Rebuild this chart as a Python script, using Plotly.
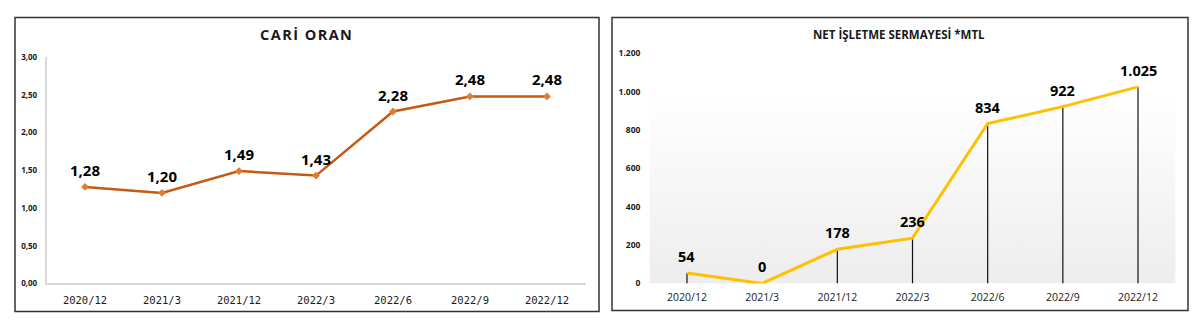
import plotly.graph_objects as go

# Periods shared by both panels
periods = ["2020/12", "2021/3", "2021/12", "2022/3", "2022/6", "2022/9", "2022/12"]

# Current ratio (CARİ ORAN)
current_ratio = [1.28, 1.20, 1.49, 1.43, 2.28, 2.48, 2.48]

# Net working capital, million TL
net_working_capital = [54, 0, 178, 236, 834, 922, 1025]

left_yticks = [0, 0.5, 1.0, 1.5, 2.0, 2.5, 3.0]
right_yticks = [0, 200, 400, 600, 800, 1000, 1200]

W, H = 1200, 329
FONT = "Open Sans"


def px_x(p):
    return p / W


def px_y(p):
    return (H - p) / H


def tr_decimal(v):
    return f"{v:.2f}".replace(".", ",")


def tr_thousands(v):
    return f"{v:,.0f}".replace(",", ".")


def spaced(text):
    # widen the tracking of a title with hair spaces
    return "\u200a".join(text)


idx = list(range(len(periods)))
fig = go.Figure()

# ---- left panel: current ratio ----
fig.add_trace(go.Scatter(
    x=idx, y=current_ratio, mode="lines+markers",
    line=dict(color="#C55A11", width=2.5),
    marker=dict(symbol="diamond", size=6, color="#E07B39"),
    xaxis="x", yaxis="y", hoverinfo="skip", showlegend=False,
))

# ---- right panel: net working capital ----
# shaded plot area fading from white to light grey
fig.add_trace(go.Scatter(
    x=[-0.5, len(periods) - 0.5, len(periods) - 0.5, -0.5, -0.5],
    y=[0, 0, 1000, 1000, 0],
    mode="lines", fill="toself", line=dict(width=0),
    fillgradient=dict(type="vertical",
                      colorscale=[[0, "#ededed"], [1, "#ffffff"]]),
    xaxis="x2", yaxis="y2", hoverinfo="skip", showlegend=False,
))

# drop lines from each point down to zero
drop_x, drop_y = [], []
for i, v in zip(idx, net_working_capital):
    drop_x += [i, i, None]
    drop_y += [0, v, None]
fig.add_trace(go.Scatter(
    x=drop_x, y=drop_y, mode="lines",
    line=dict(color="#111111", width=1.2),
    xaxis="x2", yaxis="y2", hoverinfo="skip", showlegend=False,
))

fig.add_trace(go.Scatter(
    x=idx, y=net_working_capital, mode="lines",
    line=dict(color="#FFC000", width=3),
    xaxis="x2", yaxis="y2", hoverinfo="skip", showlegend=False,
))

annotations = []
for i, v in zip(idx, current_ratio):
    annotations.append(dict(
        x=i, y=v, xref="x", yref="y", text=tr_decimal(v), showarrow=False,
        yanchor="bottom", yshift=5,
        font=dict(family=FONT, size=15, color="#000000", weight="bold"),
    ))
for i, v in zip(idx, net_working_capital):
    annotations.append(dict(
        x=i, y=v, xref="x2", yref="y2", text=tr_thousands(v), showarrow=False,
        yanchor="bottom", yshift=5,
        font=dict(family=FONT, size=14.5, color="#000000", weight="bold"),
    ))

# panel titles
annotations.append(dict(
    x=px_x(306), y=px_y(30), xref="paper", yref="paper",
    text=spaced("CARİ ORAN"), showarrow=False,
    xanchor="center", yanchor="middle",
    font=dict(family=FONT, size=14.5, color="#1a1a1a", weight="bold"),
))
annotations.append(dict(
    x=px_x(899), y=px_y(29), xref="paper", yref="paper",
    text="NET İŞLETME SERMAYESİ *MTL", showarrow=False,
    xanchor="center", yanchor="middle",
    font=dict(family=FONT, size=11.5, color="#1a1a1a", weight="bold"),
))

# panel frames
shapes = [
    dict(type="rect", xref="paper", yref="paper",
         x0=px_x(15), x1=px_x(599), y0=px_y(316), y1=px_y(12),
         line=dict(color="#333333", width=1.5), layer="below"),
    dict(type="rect", xref="paper", yref="paper",
         x0=px_x(612), x1=px_x(1188), y0=px_y(315), y1=px_y(12),
         line=dict(color="#333333", width=1.5), layer="below"),
]

n = len(periods)
fig.update_layout(
    width=W, height=H,
    margin=dict(l=0, r=0, t=0, b=0),
    paper_bgcolor="white", plot_bgcolor="rgba(0,0,0,0)",
    font=dict(family=FONT, color="#1a1a1a"),
    annotations=annotations, shapes=shapes,
    xaxis=dict(
        domain=[px_x(46.5), px_x(585.5)], range=[-0.5, n - 0.5],
        tickvals=idx, ticktext=periods, showgrid=False, zeroline=False,
        showline=True, linecolor="#d9d9d9", linewidth=1.5, ticks="",
        ticklabelstandoff=6,
        tickfont=dict(family="DejaVu Sans Mono", size=10.5, color="#1a1a1a"),
        anchor="y", fixedrange=True,
    ),
    yaxis=dict(
        domain=[px_y(287), px_y(53)], range=[0, 3],
        tickvals=left_yticks, ticktext=[tr_decimal(v) for v in left_yticks],
        showgrid=False, zeroline=False, showline=True, linecolor="#d9d9d9",
        linewidth=1.5, ticks="", ticklabelstandoff=6,
        tickfont=dict(family=FONT, size=8, color="#1a1a1a", weight="bold"),
        anchor="x", fixedrange=True,
    ),
    xaxis2=dict(
        domain=[px_x(649.4), px_x(1175.6)], range=[-0.5, n - 0.5],
        tickvals=idx, ticktext=periods, showgrid=False, zeroline=False,
        showline=False, ticks="", ticklabelstandoff=6,
        tickfont=dict(family=FONT, size=10.5, color="#1a1a1a"),
        anchor="y2", fixedrange=True,
    ),
    yaxis2=dict(
        domain=[px_y(287), px_y(49)], range=[0, 1200],
        tickvals=right_yticks, ticktext=[tr_thousands(v) for v in right_yticks],
        showgrid=False, zeroline=False, showline=False, ticks="",
        ticklabelstandoff=8,
        tickfont=dict(family=FONT, size=8.5, color="#1a1a1a", weight="bold"),
        anchor="x2", fixedrange=True,
    ),
)

fig.write_html("out.html")
